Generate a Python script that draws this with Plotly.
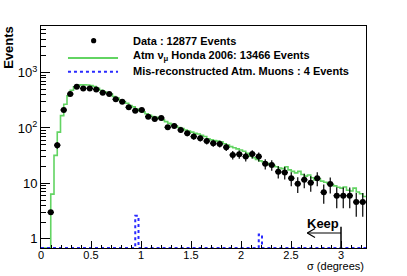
import numpy as np
import plotly.graph_objects as go

# ---------------- data ----------------
# data points: bins of width 0.065 from 0 to 3.25 (first bin empty)
data_centers = [0.0975, 0.1625, 0.2275, 0.2925, 0.3575, 0.4225, 0.4875, 0.5525, 0.6175, 0.6825,
                0.7475, 0.8125, 0.8775, 0.9425, 1.0075, 1.0725, 1.1375, 1.2025, 1.2675, 1.3325,
                1.3975, 1.4625, 1.5275, 1.5925, 1.6575, 1.7225, 1.7875, 1.8525, 1.9175, 1.9825,
                2.0475, 2.1125, 2.1775, 2.2425, 2.3075, 2.3725, 2.4375, 2.5025, 2.5675, 2.6325,
                2.6975, 2.7625, 2.8275, 2.8925, 2.9575, 3.0225, 3.0875, 3.1525, 3.2175]
data_values = [3.0, 49, 211, 410, 555, 518, 518, 497, 433, 410,
               329, 298, 236, 205, 211, 160, 145, 151, 103, 109,
               92, 80, 70, 65, 58, 53, 51.5, 45, 32.6, 33.6,
               30.4, 34, 30.4, 22.5, 21.5, 16.3, 15.7, 12.4, 9.8, 11.6,
               10.3, 12.4, 6.9, 9.7, 6.0, 6.0, 6.0, 4.6, 4.6]
data_errors = [0.3, 7, 14.5, 20, 23.5, 22.8, 22.8, 22.3, 20.8, 20.2,
               18.1, 17.3, 15.4, 14.3, 14.5, 12.6, 12.0, 12.3, 10.1, 10.4,
               9.6, 8.9, 8.4, 8.1, 7.6, 7.3, 7.2, 6.7, 5.7, 5.8,
               5.5, 5.8, 5.5, 4.7, 4.6, 4.0, 4.0, 3.5, 3.1, 3.4,
               3.2, 3.5, 2.6, 3.1, 2.45, 2.45, 2.45, 2.1, 2.1]
data_half_width = 0.0325

# MC histograms: 100 bins of width 0.0325 from 0 to 3.25
hist_width = 0.0325
mc_values = [0, 0, 0, 6.4, 32, 84, 167, 268, 380, 480,
             555, 590, 600, 600, 595, 585, 560, 520, 480, 450,
             430, 410, 370, 345, 320, 300, 280, 255, 240, 220,
             205, 195, 180, 170, 160, 155, 148, 140, 130, 122,
             115, 108, 102, 98, 92, 88, 84, 80, 78, 74,
             70, 64, 61, 59, 58, 56, 52, 49, 46, 44,
             42, 40, 38, 35, 31, 29, 27, 25.5, 24.5, 23,
             22, 21, 20, 19, 18.5, 20, 17.5, 16.5, 15.5, 16.5,
             14.5, 13.5, 14.2, 12.6, 11.5, 12, 11, 10.5, 10, 9.5,
             9, 8.5, 8.2, 8.6, 7.5, 7.3, 8.2, 7, 6.5, 5.8]
muon_values = [0] * 100
muon_values[29] = 2.6
muon_values[67] = 1.2

x_ticks = [0, 0.5, 1, 1.5, 2, 2.5, 3]
x_ticktext = ["0", "0.5", "1", "1.5", "2", "2.5", "3"]
y_ticks = [1, 10, 100, 1000]
y_ticktext = ["1", "10", "10<sup>2</sup>", "10<sup>3</sup>"]

# ---------------- figure ----------------
X_RANGE = [0, 3.25]
Y_RANGE = [-0.166, 3.84]
floor_val = 10 ** Y_RANGE[0]

edges = np.arange(len(mc_values) + 1) * hist_width


def step_y(vals):
    v = [x if x > 0 else floor_val for x in vals]
    return v + [v[-1]]


FONT = "Liberation Sans, Arial, sans-serif"
GREEN = "#62d462"
BLUE = "#2a2aff"

fig = go.Figure()
fig.add_trace(go.Scatter(x=edges, y=step_y(mc_values), mode="lines", line_shape="hv",
                         line=dict(color=GREEN, width=1.6), hoverinfo="skip"))
fig.add_trace(go.Scatter(x=edges, y=step_y(muon_values), mode="lines", line_shape="hv",
                         line=dict(color=BLUE, width=2, dash="dot"), hoverinfo="skip"))
fig.add_trace(go.Scatter(x=data_centers, y=data_values, mode="markers",
                         marker=dict(color="black", size=6, symbol="circle"),
                         error_y=dict(type="data", array=data_errors, color="black", thickness=1.2, width=0),
                         error_x=dict(type="constant", value=data_half_width, color="black", thickness=1.2, width=0)))

minor_y = [m * 10 ** d for d in range(0, 4) for m in range(2, 10) if m * 10 ** d < 10 ** Y_RANGE[1]]

fig.update_layout(
    width=407, height=276,
    margin=dict(l=41, r=41, t=26, b=28),
    paper_bgcolor="white", plot_bgcolor="white",
    showlegend=False,
    font=dict(family=FONT, color="black"),
    xaxis=dict(range=X_RANGE, showgrid=False, zeroline=False,
               showline=True, mirror=True, linecolor="black", linewidth=1,
               ticks="inside", ticklen=7, tickcolor="black", tickwidth=1,
               tickvals=x_ticks, ticktext=x_ticktext, tickfont=dict(size=11, family=FONT),
               ticklabelstandoff=-3,
               minor=dict(dtick=0.1, tick0=0, ticks="inside", ticklen=3.5, tickcolor="black", showgrid=False)),
    yaxis=dict(type="log", range=Y_RANGE, showgrid=False, zeroline=False,
               showline=True, mirror=True, linecolor="black", linewidth=1,
               ticks="inside", ticklen=9, tickcolor="black", tickwidth=1,
               tickvals=y_ticks, ticktext=y_ticktext, tickfont=dict(size=13, family=FONT),
               minor=dict(tickvals=minor_y, ticks="inside", ticklen=4.5, tickcolor="black", showgrid=False)),
)

# legend (drawn manually, ROOT style)
leg_text_x = 0.276
fig.add_annotation(xref="paper", yref="paper", x=leg_text_x, y=0.933, xanchor="left", yanchor="middle",
                   text="Data : 12877 Events", showarrow=False,
                   font=dict(size=11, family=FONT, weight="bold", color="black"))
fig.add_annotation(xref="paper", yref="paper", x=leg_text_x, y=0.866, xanchor="left", yanchor="middle",
                   text="Atm \u03bd<sub>\u03bc</sub> Honda 2006: 13466 Events", showarrow=False,
                   font=dict(size=11, family=FONT, weight="bold", color="black"))
fig.add_annotation(xref="paper", yref="paper", x=leg_text_x, y=0.798, xanchor="left", yanchor="middle",
                   text="Mis-reconstructed Atm. Muons : 4 Events", showarrow=False,
                   font=dict(size=11, family=FONT, weight="bold", color="black"))
fig.add_shape(type="circle", xref="paper", yref="paper", xsizemode="pixel", ysizemode="pixel",
              xanchor=0.162, yanchor=0.934, x0=-2.6, x1=2.6, y0=-2.6, y1=2.6,
              fillcolor="black", line=dict(color="black", width=0))
fig.add_shape(type="line", xref="paper", yref="paper", x0=0.083, x1=0.237, y0=0.856, y1=0.856,
              line=dict(color=GREEN, width=2))
fig.add_shape(type="line", xref="paper", yref="paper", x0=0.083, x1=0.237, y0=0.794, y1=0.794,
              line=dict(color=BLUE, width=2, dash="dot"))

# axis titles
fig.add_annotation(xref="paper", yref="paper", x=1.0, y=-0.083, xanchor="right", yanchor="middle",
                   text="\u03c3 (degrees)", showarrow=False, font=dict(size=11, family=FONT, color="black"))
fig.add_annotation(xref="paper", yref="paper", x=-0.1006, y=0.903, xanchor="center", yanchor="middle",
                   text="Events", textangle=-90, showarrow=False,
                   font=dict(size=13, family=FONT, weight="bold", color="black"))

# Keep cut arrow
fig.add_shape(type="line", xref="x", yref="paper", x0=3, x1=3, y0=0, y1=0.096,
              line=dict(color="black", width=1.5))
fig.add_shape(type="line", xref="x", yref="paper", x0=2.663, x1=3, y0=0.0676, y1=0.0676,
              line=dict(color="black", width=1.2))
fig.add_shape(type="line", xref="x", yref="paper", x0=2.663, x1=2.74, y0=0.0676, y1=0.088,
              line=dict(color="black", width=1.2))
fig.add_shape(type="line", xref="x", yref="paper", x0=2.663, x1=2.74, y0=0.0676, y1=0.047,
              line=dict(color="black", width=1.2))
fig.add_annotation(xref="x", yref="paper", x=2.823, y=0.111, xanchor="center", yanchor="middle",
                   text="Keep", showarrow=False, font=dict(size=13, family=FONT, weight="bold", color="black"))

fig.write_html("out.html", config={"displayModeBar": False},
               post_script="document.body.style.margin='0';document.body.style.padding='0';")
